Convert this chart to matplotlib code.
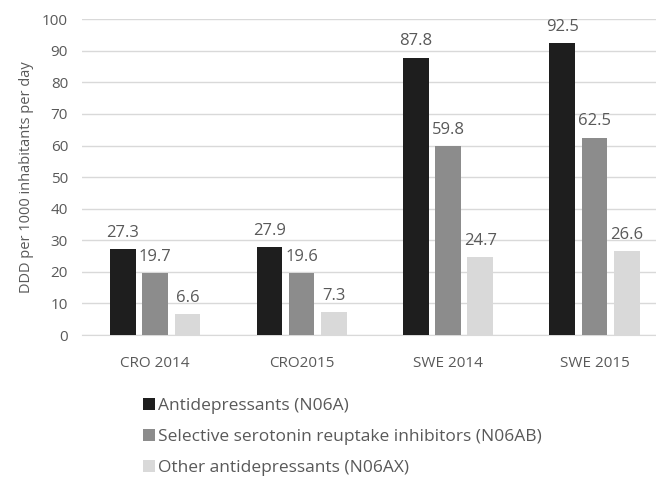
import matplotlib.pyplot as plt
import numpy as np
from matplotlib.patches import Patch

plt.rcParams['font.family'] = ['Open Sans', 'DejaVu Sans']

categories = ['CRO 2014', 'CRO2015', 'SWE 2014', 'SWE 2015']
series_names = ['Antidepressants (N06A)',
                'Selective serotonin reuptake inhibitors (N06AB)',
                'Other antidepressants (N06AX)']
n06a = [27.3, 27.9, 87.8, 92.5]
n06ab = [19.7, 19.6, 59.8, 62.5]
n06ax = [6.6, 7.3, 24.7, 26.6]

colors = ['#1e1e1e', '#8c8c8c', '#d9d9d9']
text_color = '#595959'

fig = plt.figure(figsize=(6.56, 4.78), dpi=100)
ax = fig.add_axes([0.125, 0.299, 0.875, 0.661])

x = np.arange(len(categories))
width = 0.175
offsets = [-0.22, 0.0, 0.22]
for vals, off, c in zip([n06a, n06ab, n06ax], offsets, colors):
    bars = ax.bar(x + off, vals, width, color=c, zorder=3)
    for b, v in zip(bars, vals):
        ax.text(b.get_x() + b.get_width() / 2, v + 2.6, f'{v:.1f}',
                ha='center', va='bottom', fontsize=12, color=text_color)

ax.set_ylim(0, 100)
ax.set_xlim(-0.5, 3.42)
ax.set_yticks(range(0, 101, 10))
ax.set_xticks(x)
ax.set_xticklabels(categories)
ax.tick_params(axis='both', length=0, labelsize=11, labelcolor=text_color)
ax.tick_params(axis='x', pad=15)
ax.tick_params(axis='y', pad=10)
ax.grid(axis='y', color='#d9d9d9', linewidth=1, zorder=0)
for s in ['top', 'right', 'left']:
    ax.spines[s].set_visible(False)
ax.spines['bottom'].set_color('#d9d9d9')
ax.set_ylabel('DDD per 1000 inhabitants per day', fontsize=10.5, color=text_color,
              labelpad=6)

handles = [Patch(facecolor=c, edgecolor='none') for c in colors]
fig.legend(handles, series_names, loc='upper left', bbox_to_anchor=(0.207, 0.182),
           frameon=False, fontsize=12.5, labelcolor=text_color,
           handlelength=0.7, handleheight=0.7, handletextpad=0.2,
           labelspacing=0.85, borderaxespad=0)

fig.savefig('out.png', dpi=100)
